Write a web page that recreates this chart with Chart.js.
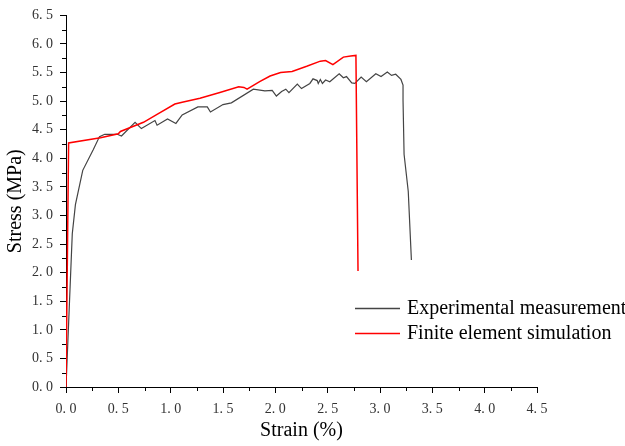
<!DOCTYPE html>
<html>
<head>
<meta charset="utf-8">
<script src="https://cdn.jsdelivr.net/npm/chart.js@4/dist/chart.umd.min.js"></script>
<style>
  html, body { margin: 0; padding: 0; background: #fff; }
  #stressChart { display: block; }
</style>
</head>
<body>
<canvas id="stressChart" width="625" height="446"></canvas>
<script>
/* data */
const expStrain = [0, 0.06, 0.09, 0.16, 0.26, 0.32, 0.37, 0.49, 0.53, 0.66, 0.72, 0.85, 0.87, 0.97, 1.05, 1.11, 1.26, 1.35, 1.38, 1.50, 1.58, 1.79, 1.90, 1.97, 2.01, 2.06, 2.10, 2.13, 2.21, 2.25, 2.33, 2.36, 2.40, 2.41, 2.43, 2.45, 2.48, 2.52, 2.61, 2.65, 2.68, 2.73, 2.76, 2.82, 2.87, 2.96, 3.01, 3.07, 3.11, 3.15, 3.20, 3.22, 3.22, 3.23, 3.27, 3.30];
const expStress = [0, 2.68, 3.19, 3.79, 4.15, 4.38, 4.42, 4.42, 4.39, 4.63, 4.52, 4.66, 4.58, 4.69, 4.61, 4.76, 4.90, 4.90, 4.81, 4.94, 4.97, 5.21, 5.18, 5.19, 5.09, 5.17, 5.21, 5.15, 5.30, 5.22, 5.31, 5.39, 5.36, 5.31, 5.38, 5.31, 5.37, 5.34, 5.48, 5.41, 5.43, 5.32, 5.31, 5.42, 5.34, 5.48, 5.43, 5.51, 5.45, 5.47, 5.38, 5.28, 5.02, 4.07, 3.42, 2.22];

const simStrain = [0, 0.025, 0.33, 0.50, 0.52, 0.74, 0.87, 1.04, 1.11, 1.28, 1.47, 1.65, 1.70, 1.73, 1.85, 1.95, 2.05, 2.16, 2.30, 2.43, 2.48, 2.55, 2.65, 2.72, 2.77, 2.79];
const simStress = [0, 4.27, 4.36, 4.43, 4.47, 4.63, 4.77, 4.95, 4.98, 5.05, 5.15, 5.25, 5.24, 5.21, 5.34, 5.44, 5.50, 5.52, 5.61, 5.70, 5.71, 5.64, 5.77, 5.79, 5.80, 2.03];

const seriesNames = ["Experimental measurement", "Finite element simulation"];
const seriesColors = ["#444444", "#ff0000"];

const xMin = 0, xMax = 4.5, yMin = 0, yMax = 6.5;
const majorStep = 0.5;

function toPoints(xs, ys) {
  return xs.map((x, i) => ({ x: x, y: ys[i] }));
}

function fmtTick(value) {
  return value.toFixed(1).replace(".", ". ");
}

/* minor ticks between the major ones */
const minorTicks = {
  id: "minorTicks",
  afterDraw(chart) {
    const ctx = chart.ctx;
    const xs = chart.scales.x;
    const ys = chart.scales.y;
    ctx.save();
    ctx.strokeStyle = "#000";
    ctx.lineWidth = 1;
    ctx.beginPath();
    for (let v = xMin + majorStep / 2; v < xMax; v += majorStep) {
      const px = Math.round(xs.getPixelForValue(v)) + 0.5;
      ctx.moveTo(px, xs.top);
      ctx.lineTo(px, xs.top + 4);
    }
    for (let v = yMin + majorStep / 2; v < yMax; v += majorStep) {
      const py = Math.round(ys.getPixelForValue(v)) + 0.5;
      ctx.moveTo(ys.right, py);
      ctx.lineTo(ys.right - 4, py);
    }
    ctx.stroke();
    ctx.restore();
  }
};

/* legend inside the plot */
const insideLegend = {
  id: "insideLegend",
  afterDraw(chart) {
    const ctx = chart.ctx;
    ctx.save();
    ctx.font = "20px 'Liberation Serif'";
    ctx.textBaseline = "middle";
    ctx.fillStyle = "#000";
    seriesNames.forEach((name, i) => {
      const y = 308 + i * 25;
      ctx.strokeStyle = seriesColors[i];
      ctx.lineWidth = 1.5;
      ctx.beginPath();
      ctx.moveTo(355, y + 0.5);
      ctx.lineTo(400, y + 0.5);
      ctx.stroke();
      ctx.fillText(name, 407, y + 1);
    });
    ctx.restore();
  }
};

const stressChart = new Chart(document.querySelector("#stressChart"), {
  type: "scatter",
  data: {
    datasets: [
      {
        label: seriesNames[0],
        data: toPoints(expStrain, expStress),
        showLine: true,
        borderColor: seriesColors[0],
        borderWidth: 1.2,
        pointRadius: 0,
        tension: 0,
        order: 2
      },
      {
        label: seriesNames[1],
        data: toPoints(simStrain, simStress),
        showLine: true,
        borderColor: seriesColors[1],
        borderWidth: 1.5,
        pointRadius: 0,
        tension: 0,
        order: 1
      }
    ]
  },
  options: {
    responsive: false,
    animation: false,
    layout: {
      padding: { top: 13, right: 88, left: 0, bottom: 0 }
    },
    plugins: {
      legend: { display: false },
      tooltip: { enabled: false }
    },
    scales: {
      x: {
        type: "linear",
        min: xMin,
        max: xMax,
        afterFit(scale) { scale.height = 59; },
        border: { color: "#000", width: 1 },
        grid: { drawOnChartArea: false, tickLength: 6, color: "#000" },
        ticks: {
          stepSize: majorStep,
          padding: 8,
          color: "#333",
          font: { family: "'Liberation Serif'", size: 14 },
          callback: value => fmtTick(value)
        },
        title: {
          display: true,
          text: "Strain (%)",
          color: "#000",
          font: { family: "'Liberation Serif'", size: 20 },
          padding: { top: 0, bottom: 3 }
        }
      },
      y: {
        type: "linear",
        min: yMin,
        max: yMax,
        afterFit(scale) { scale.width = 66; },
        border: { color: "#000", width: 1 },
        grid: { drawOnChartArea: false, tickLength: 6, color: "#000" },
        ticks: {
          stepSize: majorStep,
          padding: 7,
          color: "#333",
          font: { family: "'Liberation Serif'", size: 14 },
          callback: value => fmtTick(value)
        },
        title: {
          display: true,
          text: "Stress (MPa)",
          color: "#000",
          font: { family: "'Liberation Serif'", size: 20 },
          padding: { top: 4, bottom: 0 }
        }
      }
    }
  },
  plugins: [minorTicks, insideLegend]
});
</script>
</body>
</html>
